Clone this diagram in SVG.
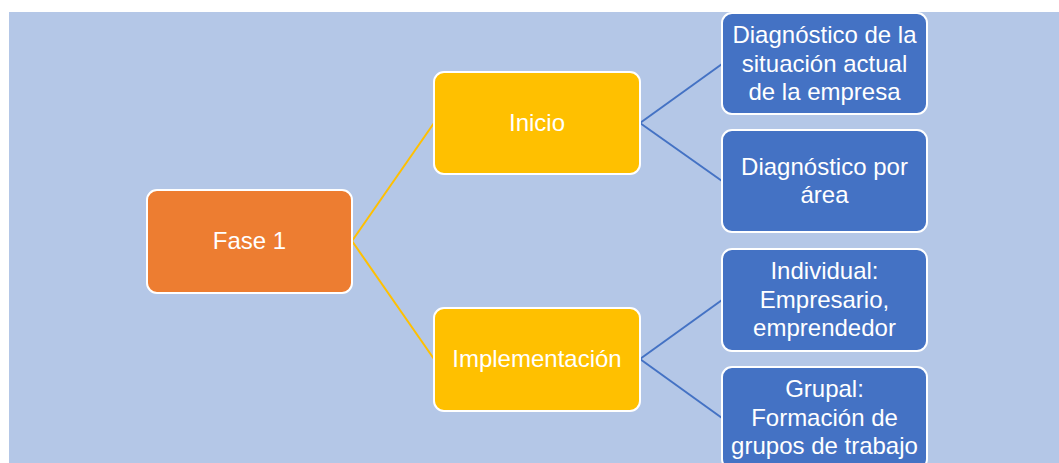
<svg xmlns="http://www.w3.org/2000/svg" width="1059" height="463" viewBox="0 0 1059 463">
<style>
.box{stroke:#FFFFFF;stroke-width:2}
.t{font-family:"Liberation Sans",Arial,sans-serif;font-size:24px;fill:#FFFFFF;text-anchor:middle}
.cy{stroke:#FFC000;stroke-width:2;fill:none}
.cb{stroke:#4472C4;stroke-width:2;fill:none}
</style>
<rect x="0" y="0" width="1059" height="463" fill="#FFFFFF"/>
<rect x="9" y="12" width="1050" height="451" fill="#B4C7E7"/>
<g id="connectors">
<line class="cy" x1="352" y1="241" x2="434" y2="123"/>
<line class="cy" x1="352" y1="241" x2="434" y2="359"/>
<line class="cb" x1="640" y1="123" x2="722" y2="64"/>
<line class="cb" x1="640" y1="123" x2="722" y2="181"/>
<line class="cb" x1="640" y1="359" x2="722" y2="300"/>
<line class="cb" x1="640" y1="359" x2="722" y2="418"/>
</g>
<g id="fase1">
<rect class="box" x="147" y="190" width="205" height="103" rx="10" fill="#ED7D31"/>
<text class="t" x="249.5" y="249">Fase 1</text>
</g>
<g id="inicio">
<rect class="box" x="434" y="72" width="206" height="102" rx="10" fill="#FFC000"/>
<text class="t" x="537" y="131">Inicio</text>
</g>
<g id="implementacion">
<rect class="box" x="434" y="308" width="206" height="103" rx="10" fill="#FFC000"/>
<text class="t" x="537" y="367">Implementación</text>
</g>
<g id="diag-situacion">
<rect class="box" x="722" y="13" width="205" height="101" rx="10" fill="#4472C4"/>
<text class="t" x="824.5" y="43">Diagnóstico de la</text>
<text class="t" x="824.5" y="72">situación actual</text>
<text class="t" x="824.5" y="100">de la empresa</text>
</g>
<g id="diag-area">
<rect class="box" x="722" y="130" width="205" height="102" rx="10" fill="#4472C4"/>
<text class="t" x="824.5" y="175">Diagnóstico por</text>
<text class="t" x="824.5" y="203">área</text>
</g>
<g id="individual">
<rect class="box" x="722" y="249" width="205" height="102" rx="10" fill="#4472C4"/>
<text class="t" x="824.5" y="279">Individual:</text>
<text class="t" x="824.5" y="308">Empresario,</text>
<text class="t" x="824.5" y="336">emprendedor</text>
</g>
<g id="grupal">
<rect class="box" x="722" y="367" width="205" height="102" rx="10" fill="#4472C4"/>
<text class="t" x="824.5" y="397">Grupal:</text>
<text class="t" x="824.5" y="426">Formación de</text>
<text class="t" x="824.5" y="454">grupos de trabajo</text>
</g>
</svg>
